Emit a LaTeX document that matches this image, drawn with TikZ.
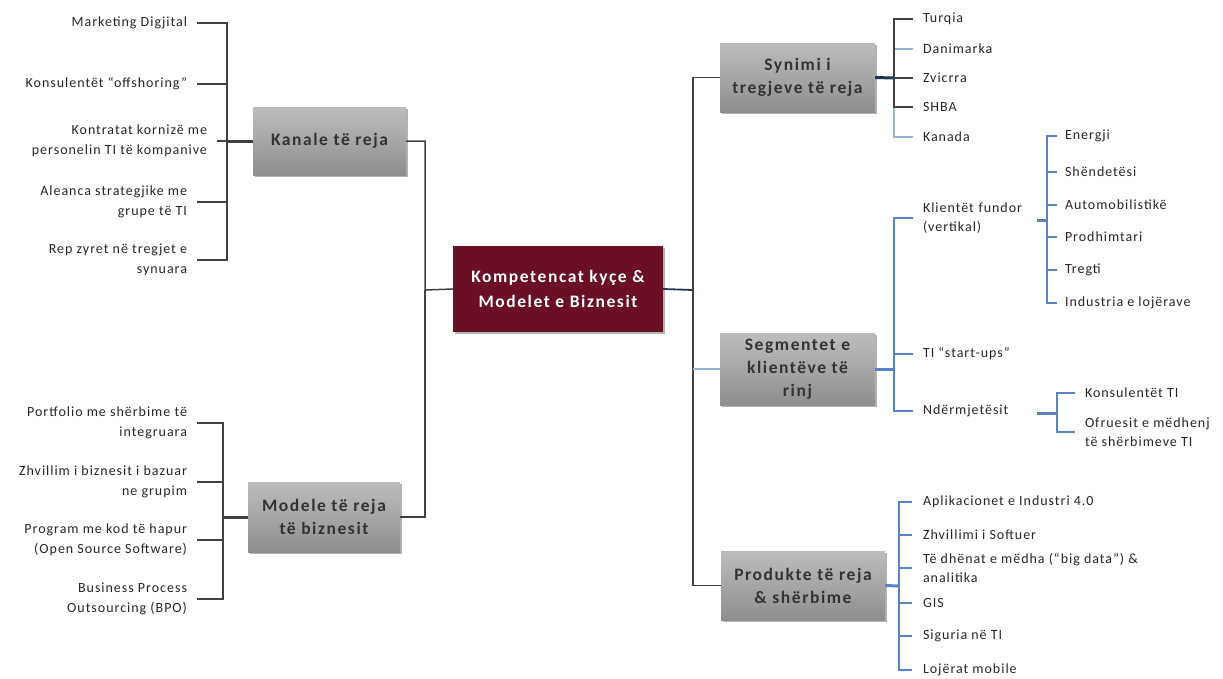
\documentclass[tikz,border=0pt]{standalone}
\usepackage{fontspec}
\setmainfont{Carlito}
\newfontfamily\leaffont[LetterSpace=7]{Carlito}
\newfontfamily\boxfont[LetterSpace=9]{Carlito}
\usetikzlibrary{shadows}
\definecolor{conncol}{HTML}{404040}
\definecolor{navycol}{HTML}{1F3550}
\definecolor{bluecol}{HTML}{5A82C8}
\definecolor{lbluecol}{HTML}{95B3D7}
\definecolor{boxtop}{HTML}{BDBDBD}
\definecolor{boxbot}{HTML}{8E8E8E}
\definecolor{boxtext}{HTML}{333333}
\definecolor{leaftext}{HTML}{262626}
\definecolor{maroon}{HTML}{6B0F25}
\begin{document}
\begin{tikzpicture}[x=1pt,y=-1pt,
  box/.style={rectangle, top color=boxtop, bottom color=boxbot, draw=none, text=boxtext,
    font=\boxfont\fontsize{17.5}{23}\selectfont\bfseries, align=center, inner sep=0pt,
    drop shadow={shadow xshift=1.5pt, shadow yshift=-2pt, opacity=0.3, fill=black}},
  cbox/.style={rectangle, fill=maroon, draw=none, text=white,
    font=\boxfont\fontsize{17.5}{25}\selectfont\bfseries, align=center, inner sep=0pt,
    drop shadow={shadow xshift=1.5pt, shadow yshift=-2pt, opacity=0.3, fill=black}},
  lleaf/.style={anchor=east, align=right, font=\leaffont\fontsize{14}{19.5}\selectfont, text=leaftext, inner sep=0pt, outer xsep=10pt},
  rleaf/.style={anchor=west, align=left, font=\leaffont\fontsize{14}{19.5}\selectfont, text=leaftext, inner sep=0pt, outer xsep=10pt},
  conn/.style={draw=conncol, line width=1.5pt},
  bconn/.style={draw=bluecol, line width=1.4pt},
  lbconn/.style={draw=lbluecol, line width=1.4pt},
  heavy/.style={line width=3pt}]
\useasboundingbox (0,0) rectangle (1223,678);

% ---------- boxes ----------
\node[cbox, minimum width=210pt, minimum height=86pt] (c) at (558,289) {Kompetencat kyçe \&\\Modelet e Biznesit};
\node[box, minimum width=153pt, minimum height=68pt] (kan) at (329.5,141) {Kanale të reja};
\node[box, minimum width=152pt, minimum height=70pt] (mod) at (324,517) {Modele të reja\\të biznesit};
\node[box, minimum width=155pt, minimum height=69pt] (syn) at (797.5,77.5) {Synimi i\\tregjeve të reja};
\node[box, minimum width=155pt, minimum height=72pt] (seg) at (797.5,369) {Segmentet e\\klientëve të\\rinj};
\node[box, minimum width=164pt, minimum height=69pt] (pro) at (803,585.5) {Produkte të reja\\\& shërbime};

% ---------- trunks ----------
\coordinate (lt) at (425,290);
\coordinate (rt) at (693,290);
\draw[conn] (kan.east) -| (lt) -- (c.west);
\draw[conn] (mod.east) -| (lt);
\draw[draw=navycol, line width=1.8pt] (c.east) -- (rt);
\draw[conn] (rt) |- (syn.west);
\draw[conn] (rt) |- (pro.west);
\draw[lbconn] (seg.west) -- (seg.west -| rt);

% ---------- Kanale leaves ----------
\coordinate (kb) at (227,141);
\draw[conn, heavy] (kan.west) -- (kb);
\node[lleaf] (k1) at (197,23) {Marketing Digjital};
\node[lleaf] (k2) at (197,84) {Konsulentët “offshoring”};
\node[lleaf] (k3) at (217,141) {Kontratat kornizë me\\personelin TI të kompanive};
\node[lleaf] (k4) at (197,202) {Aleanca strategjike me\\grupe të TI};
\node[lleaf] (k5) at (197,260) {Rep zyret në tregjet e\\synuara};
\foreach \n in {k1,k2,k3,k4,k5} \draw[conn] (kb) |- (\n.east);

% ---------- Modele leaves ----------
\coordinate (mb) at (223,517);
\draw[conn, heavy] (mod.west) -- (mb);
\node[lleaf] (m1) at (197,423) {Portfolio me shërbime të\\integruara};
\node[lleaf] (m2) at (197,482) {Zhvillim i biznesit i bazuar\\ne grupim};
\node[lleaf] (m3) at (197,540) {Program me kod të hapur\\(Open Source Software)};
\node[lleaf] (m4) at (197,599) {Business Process\\Outsourcing (BPO)};
\foreach \n in {m1,m2,m3,m4} \draw[conn] (mb) |- (\n.east);

% ---------- Synimi leaves ----------
\coordinate (sb) at (894,78);
\draw[draw=navycol, heavy] (syn.east) -- (sb);
\node[rleaf] (s1) at (913,19) {Turqia};
\node[rleaf] (s2) at (913,49) {Danimarka};
\node[rleaf] (s3) at (913,78) {Zvicrra};
\node[rleaf] (s4) at (913,107) {SHBA};
\node[rleaf] (s5) at (913,137) {Kanada};
\draw[lbconn] (sb) |- (s2.west);
\draw[lbconn] (sb) |- (s5.west);
\draw[conn] (sb) |- (s1.west);
\draw[conn] (sb) |- (s3.west);
\draw[conn] (sb) |- (s4.west);

% ---------- Segmentet leaves ----------
\coordinate (gb) at (894,369);
\draw[bconn, heavy] (seg.east) -- (gb);
\node[rleaf, text width=104pt] (g1) at (913,218) {Klientët fundor\\(vertikal)};
\node[rleaf] (g2) at (913,354) {TI “start-ups”};
\node[rleaf, text width=104pt] (g3) at (913,411) {Ndërmjetësit};
\draw[bconn] (gb) |- (g1.west);
\draw[bconn] (gb) |- (g2.west);
\draw[bconn] (gb) |- (g3.west);

\coordinate (vb) at (1047,220);
\draw[bconn, heavy] (g1.east |- vb) -- (vb);
\node[rleaf, outer xsep=8pt] (v1) at (1057,136) {Energji};
\node[rleaf, outer xsep=8pt] (v2) at (1057,172) {Shëndetësi};
\node[rleaf, outer xsep=8pt] (v3) at (1057,205) {Automobilistikë};
\node[rleaf, outer xsep=8pt] (v4) at (1057,237) {Prodhimtari};
\node[rleaf, outer xsep=8pt] (v5) at (1057,270) {Tregti};
\node[rleaf, outer xsep=8pt] (v6) at (1057,303) {Industria e lojërave};
\foreach \n in {v1,v2,v3,v4,v5,v6} \draw[bconn] (vb) |- (\n.west);

\coordinate (nb) at (1057,413);
\draw[bconn, heavy] (g3.east |- nb) -- (nb);
\node[rleaf] (n1) at (1075,393) {Konsulentët TI};
\node[rleaf] (n2) at (1075,432) {Ofruesit e mëdhenj\\të shërbimeve TI};
\draw[bconn] (nb) |- (n1.west);
\draw[bconn] (nb) |- (n2.west);

% ---------- Produkte leaves ----------
\coordinate (pb) at (899,586);
\draw[bconn, heavy] (pro.east) -- (pb);
\node[rleaf, outer xsep=11pt] (p1) at (912,502) {Aplikacionet e Industri 4.0};
\node[rleaf, outer xsep=11pt] (p2) at (912,535) {Zhvillimi i Softuer};
\node[rleaf, outer xsep=11pt] (p3) at (912,568) {Të dhënat e mëdha (“big data”) \&\\analitika};
\node[rleaf, outer xsep=11pt] (p4) at (912,603) {GIS};
\node[rleaf, outer xsep=11pt] (p5) at (912,636) {Siguria në TI};
\node[rleaf, outer xsep=11pt] (p6) at (912,670) {Lojërat mobile};
\foreach \n in {p1,p2,p3,p4,p5,p6} \draw[bconn] (pb) |- (\n.west);
\end{tikzpicture}
\end{document}
